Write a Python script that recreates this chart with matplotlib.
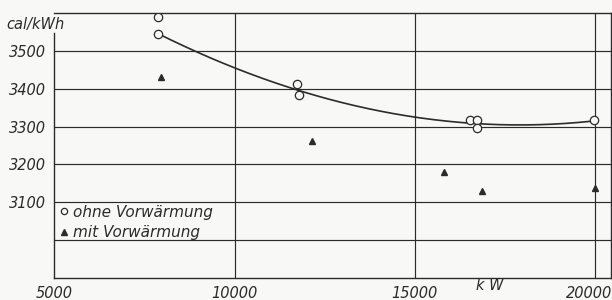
import numpy as np
import matplotlib
matplotlib.use("Agg")
import matplotlib.pyplot as plt
import matplotlib.transforms as mtransforms
from matplotlib.lines import Line2D

# Data
ohne_kw = [7860, 7860, 11720, 11780, 16530, 16720, 16720, 19970]
ohne_val = [3589, 3545, 3413, 3384, 3316, 3316, 3295, 3318]
mit_kw = [7970, 12140, 15810, 16860, 19990]
mit_val = [3432, 3263, 3179, 3129, 3137]
# smooth curve knots
curve_kw = [7860, 9030, 10000, 11720, 14970, 16530, 17360, 19030, 19970]
curve_val = [3545, 3497, 3453, 3395, 3326, 3316, 3300, 3303, 3318]
xticks = [5000, 10000, 15000, 20000]
yticks = [3100, 3200, 3300, 3400, 3500]

ink = '#2b2b2b'
bg = '#f8f8f6'
plt.rcParams['font.family'] = ['DejaVu Sans']

fig = plt.figure(figsize=(6.12, 3.0), dpi=100, facecolor=bg)
ax = fig.add_axes([0.089, 0.073, 0.909, 0.884], facecolor=bg)
ax.set_xlim(5000, 20440)
ax.set_ylim(2900, 3600)

# grid
for v in [10000, 15000, 20000]:
    ax.axvline(v, color=ink, lw=0.85, zorder=1)
for v in [3000, 3100, 3200, 3300, 3400, 3500]:
    ax.axhline(v, color=ink, lw=0.85, zorder=1)
for s in ax.spines.values():
    s.set_color(ink)
    s.set_linewidth(1.0)
ax.spines['left'].set_bounds(2900, 3548)

# fitted curve
coef = np.polyfit(curve_kw, curve_val, 3)
xs = np.linspace(curve_kw[0], curve_kw[-1], 200)
ax.plot(xs, np.polyval(coef, xs), color=ink, lw=1.2, zorder=2)

ax.plot(ohne_kw, ohne_val, 'o', ms=6, mfc=bg, mec=ink, mew=0.9, zorder=3)
ax.plot(mit_kw, mit_val, '^', ms=5, color=ink, zorder=3)

ax.set_xticks(xticks)
ax.set_xticklabels([str(t) for t in xticks], fontsize=10.5, style='italic', color=ink)
ax.set_yticks(yticks)
ax.set_yticklabels([str(t) for t in yticks], fontsize=10.5, style='italic', color=ink)
ax.tick_params(length=0, pad=6)
last = ax.get_xticklabels()[-1]
last.set_transform(last.get_transform() + mtransforms.ScaledTranslation(-6/100, 0, fig.dpi_scale_trans))

fig.text(0.010, 0.918, 'cal/kWh', fontsize=10.5, style='italic', color=ink, va='center', ha='left')
fig.text(0.80, 0.048, 'k W', fontsize=10.5, style='italic', color=ink, va='center', ha='center')

handles = [Line2D([], [], ls='none', marker='o', ms=4.5, mfc=bg, mec=ink, mew=0.9),
           Line2D([], [], ls='none', marker='^', ms=4.5, color=ink)]
leg = ax.legend(handles, ['ohne Vorwärmung', 'mit Vorwärmung'], loc='upper left',
                bbox_to_anchor=(-0.008, 0.30), frameon=False, handletextpad=0.1,
                handlelength=1.0, labelspacing=0.35, borderaxespad=0.0,
                prop={'size': 11, 'style': 'italic'})
for t in leg.get_texts():
    t.set_color(ink)

fig.savefig('out.png', dpi=100, facecolor=bg)
